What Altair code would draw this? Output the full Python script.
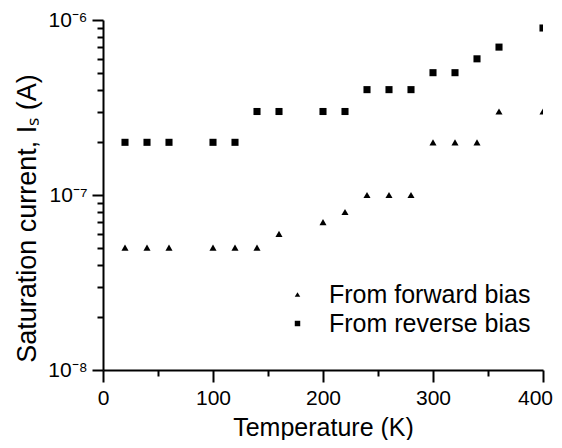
import altair as alt
import pandas as pd

temps_fwd = [20, 40, 60, 100, 120, 140, 160, 200, 220, 240, 260, 280, 300, 320, 340, 360, 400]
is_fwd = [5e-8, 5e-8, 5e-8, 5e-8, 5e-8, 5e-8, 6e-8, 7e-8, 8e-8, 1e-7, 1e-7, 1e-7, 2e-7, 2e-7, 2e-7, 3e-7, 3e-7]
temps_rev = [20, 40, 60, 100, 120, 140, 160, 200, 220, 240, 260, 280, 300, 320, 340, 360, 400]
is_rev = [2e-7, 2e-7, 2e-7, 2e-7, 2e-7, 3e-7, 3e-7, 3e-7, 3e-7, 4e-7, 4e-7, 4e-7, 5e-7, 5e-7, 6e-7, 7e-7, 9e-7]
series = ["From forward bias", "From reverse bias"]
x_ticks = [0, 50, 100, 150, 200, 250, 300, 350, 400]
y_ticks = [1e-8, 2e-8, 3e-8, 4e-8, 5e-8, 6e-8, 7e-8, 8e-8, 9e-8,
           1e-7, 2e-7, 3e-7, 4e-7, 5e-7, 6e-7, 7e-7, 8e-7, 9e-7, 1e-6]

df = pd.concat([
    pd.DataFrame({"T": temps_fwd, "Is": is_fwd, "series": series[0]}),
    pd.DataFrame({"T": temps_rev, "Is": is_rev, "series": series[1]}),
])

FONT = "Liberation Sans"
major_y = "datum.value == 1e-6 || datum.value == 1e-7 || datum.value == 1e-8"

chart = alt.Chart(df).mark_point(filled=True, opacity=1, color="black", size=50, clip=True).encode(
    x=alt.X("T:Q", scale=alt.Scale(domain=[0, 400], nice=False),
            axis=alt.Axis(title="Temperature (K)", values=x_ticks,
                          labelExpr="datum.value % 100 == 0 ? datum.label : ''",
                          tickSize={"condition": {"test": "datum.value % 100 == 0", "value": 12}, "value": 6},
                          labelOffset={"condition": {"test": "datum.value == 400", "value": -8}, "value": 0},
                          labelFontSize=21, titleFontSize=25, labelPadding=5, titlePadding=7,
                          grid=False, domainWidth=2, tickWidth=2, domainColor="black", tickColor="black",
                          labelColor="black", titleColor="black", titleFontWeight="normal",
                          labelFont=FONT, titleFont=FONT, labelFlush=False)),
    y=alt.Y("Is:Q", scale=alt.Scale(type="log", domain=[1e-8, 1e-6], nice=False),
            axis=alt.Axis(title="Saturation current, Iₛ (A)", values=y_ticks,
                          labelExpr="datum.value == 1e-6 ? '10⁻⁶' : datum.value == 1e-7 ? '10⁻⁷' : datum.value == 1e-8 ? '10⁻⁸' : ''",
                          tickSize={"condition": {"test": major_y, "value": 11}, "value": 6},
                          labelFontSize=21, titleFontSize=27, labelPadding=5,
                          titleX=-62, titleY=198,
                          grid=False, domainWidth=2, tickWidth=2, domainColor="black", tickColor="black",
                          labelColor="black", titleColor="black", titleFontWeight="normal",
                          labelFont=FONT, titleFont=FONT, labelFlush=False)),
    shape=alt.Shape("series:N", scale=alt.Scale(domain=series, range=["triangle-up", "square"]),
                    legend=alt.Legend(title=None, orient="none", legendX=182, legendY=262,
                                      labelFontSize=25, labelFont=FONT, labelColor="black", labelLimit=0,
                                      symbolSize=30, symbolFillColor="black", symbolStrokeColor="black",
                                      labelOffset=19, rowPadding=3, padding=0)),
).properties(
    width=440, height=350,
    padding={"left": 95, "top": 12, "right": 11, "bottom": 70},
    autosize=alt.AutoSizeParams(type="none"),
).configure_view(stroke=None)

chart.save("out.html", embed_options={"renderer": "svg", "actions": False})
